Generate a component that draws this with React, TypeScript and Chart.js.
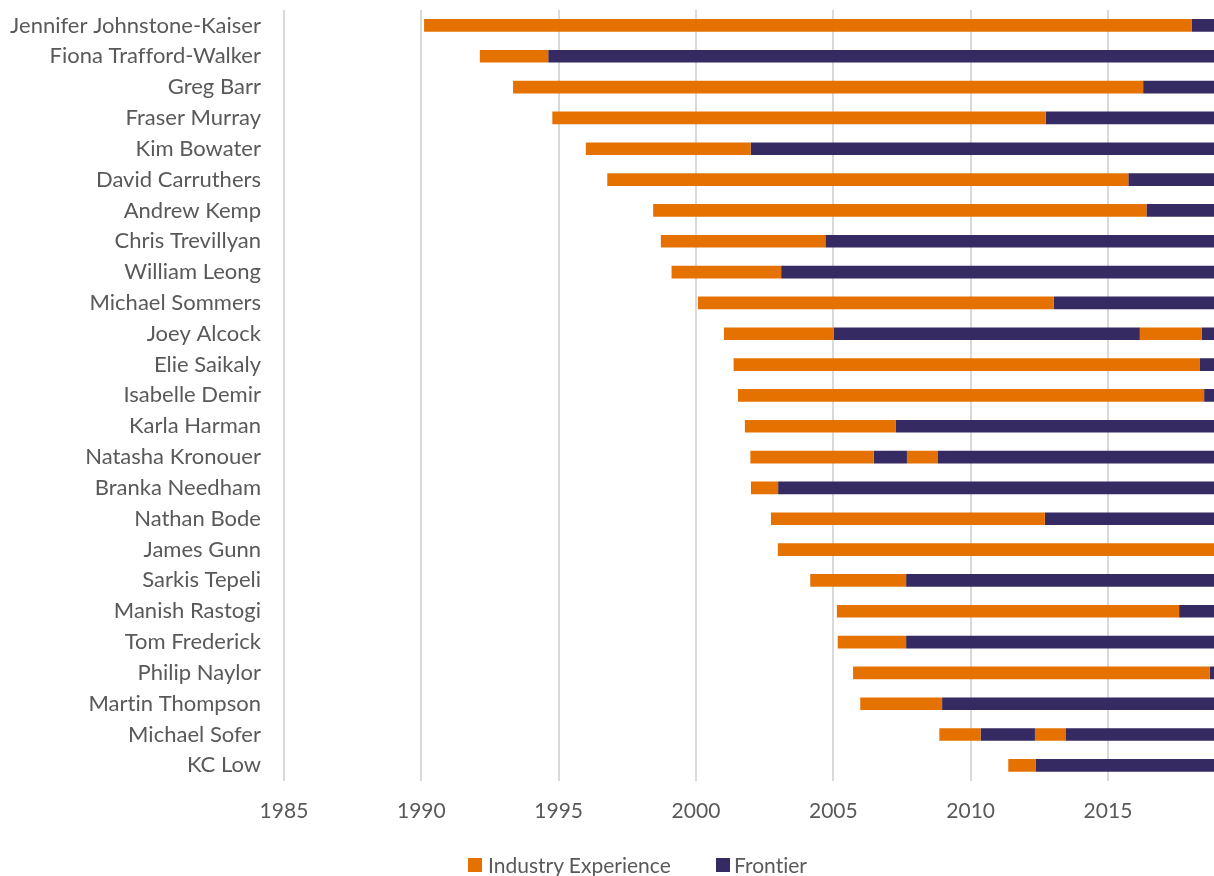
import React, { useEffect, useRef } from "react";
import { Chart, registerables } from "chart.js";

Chart.register(...registerables);

const names = [
  "Jennifer Johnstone-Kaiser",
  "Fiona Trafford-Walker",
  "Greg Barr",
  "Fraser Murray",
  "Kim Bowater",
  "David Carruthers",
  "Andrew Kemp",
  "Chris Trevillyan",
  "William Leong",
  "Michael Sommers",
  "Joey Alcock",
  "Elie Saikaly",
  "Isabelle Demir",
  "Karla Harman",
  "Natasha Kronouer",
  "Branka Needham",
  "Nathan Bode",
  "James Gunn",
  "Sarkis Tepeli",
  "Manish Rastogi",
  "Tom Frederick",
  "Philip Naylor",
  "Martin Thompson",
  "Michael Sofer",
  "KC Low",
];

// Year each person started in industry
const industryStart = [
  1990.1, 1992.13, 1993.34, 1994.77, 1995.99, 1996.77, 1998.44, 1998.72, 1999.11, 2000.07,
  2001.02, 2001.37, 2001.53, 2001.78, 2001.98, 2002.0, 2002.73, 2002.98, 2004.16, 2005.13,
  2005.16, 2005.72, 2005.98, 2008.86, 2011.37,
];

// Year each person joined Frontier (null = not yet)
const frontierStart: (number | null)[] = [
  2018.04, 1994.62, 2016.28, 2012.73, 2001.99, 2015.74, 2016.4, 2004.71, 2003.1, 2013.03,
  2005.01, 2018.33, 2018.5, 2007.28, 2006.47, 2002.99, 2012.7, null, 2007.65, 2017.59,
  2007.65, 2018.71, 2008.96, 2010.36, 2012.36,
];

// Second stint in industry (null = none)
const returnIndustry: (number | null)[] = [
  null, null, null, null, null, null, null, null, null, null,
  2016.16, null, null, null, 2007.68, null, null, null, null, null,
  null, null, null, 2012.34, null,
];

// Rejoined Frontier (null = none)
const returnFrontier: (number | null)[] = [
  null, null, null, null, null, null, null, null, null, null,
  2018.42, null, null, null, 2008.79, null, null, null, null, null,
  null, null, null, 2013.45, null,
];

const AXIS_MIN = 1985;
const AXIS_MAX = 2018.86;
const xTickValues = [1985, 1990, 1995, 2000, 2005, 2010, 2015];

const legendItems = ["Industry Experience", "Frontier"];

const ORANGE = "#E57200";
const NAVY = "#362A62";
const TEXT = "#595959";
const FONT = "Lato, 'Open Sans', sans-serif";

const noLigatures = {
  id: "noLigatures",
  beforeDraw(chart: any) {
    try {
      chart.ctx.letterSpacing = "0.01px";
    } catch (e) {
      /* ignore */
    }
  },
};

export default function App() {
  const canvasRef = useRef<HTMLCanvasElement | null>(null);

  useEffect(() => {
    const canvas = canvasRef.current;
    if (!canvas) return;

    const END = AXIS_MAX;
    const industry1 = names.map((_, i) => [industryStart[i], frontierStart[i] ?? END]);
    const frontier1 = names.map((_, i) =>
      frontierStart[i] == null ? null : [frontierStart[i] as number, returnIndustry[i] ?? END]
    );
    const industry2 = names.map((_, i) =>
      returnIndustry[i] == null ? null : [returnIndustry[i] as number, returnFrontier[i] as number]
    );
    const frontier2 = names.map((_, i) =>
      returnFrontier[i] == null ? null : [returnFrontier[i] as number, END]
    );

    const common = {
      grouped: false,
      categoryPercentage: 1,
      barPercentage: 0.41,
      borderWidth: 0,
      borderSkipped: false,
    };

    const chart = new Chart(canvas, {
      type: "bar",
      data: {
        labels: names,
        datasets: [
          { label: legendItems[0], data: industry1 as any, backgroundColor: ORANGE, ...common },
          { label: legendItems[1], data: frontier1 as any, backgroundColor: NAVY, ...common },
          { label: legendItems[0] + " (2)", data: industry2 as any, backgroundColor: ORANGE, ...common },
          { label: legendItems[1] + " (2)", data: frontier2 as any, backgroundColor: NAVY, ...common },
        ],
      },
      options: {
        indexAxis: "y",
        responsive: false,
        animation: false,
        layout: { padding: { top: 10, bottom: 34, left: 0, right: 0 } },
        plugins: {
          legend: { display: false },
          tooltip: { enabled: false },
        },
        scales: {
          x: {
            type: "linear",
            min: AXIS_MIN,
            max: AXIS_MAX,
            afterBuildTicks: (scale: any) => {
              scale.ticks = xTickValues.map((v) => ({ value: v }));
            },
            afterFit: (scale: any) => {
              scale.paddingLeft = 0;
              scale.paddingRight = 0;
            },
            grid: {
              color: "#D9D9D9",
              lineWidth: 2,
              drawTicks: false,
            },
            border: { display: false },
            ticks: {
              padding: 18,
              color: TEXT,
              font: { family: FONT, size: 21 },
              callback: (v: any) => String(v),
            },
          },
          y: {
            type: "category",
            afterFit: (scale: any) => {
              scale.width = 284;
              scale.paddingTop = 0;
              scale.paddingBottom = 0;
            },
            grid: { display: false, drawTicks: false },
            border: { display: false },
            ticks: {
              padding: 23,
              color: TEXT,
              font: { family: FONT, size: 22 },
            },
          },
        },
      } as any,
      plugins: [noLigatures],
    });

    return () => chart.destroy();
  }, []);

  const legendText: React.CSSProperties = {
    position: "absolute",
    top: 852,
    height: 26,
    lineHeight: "26px",
    fontFamily: FONT,
    fontSize: 21,
    color: TEXT,
    whiteSpace: "nowrap",
    fontVariantLigatures: "none",
  };

  return (
    <div style={{ position: "absolute", left: 0, top: 0, width: 1214, height: 876, background: "#fff" }}>
      <canvas ref={canvasRef} width={1214} height={876} style={{ display: "block", width: 1214, height: 876 }} />
      <div style={{ position: "absolute", left: 468, top: 858, width: 14, height: 14, background: ORANGE }} />
      <div style={{ ...legendText, left: 488 }}>{legendItems[0]}</div>
      <div style={{ position: "absolute", left: 716, top: 858, width: 14, height: 14, background: NAVY }} />
      <div style={{ ...legendText, left: 734 }}>{legendItems[1]}</div>
    </div>
  );
}
